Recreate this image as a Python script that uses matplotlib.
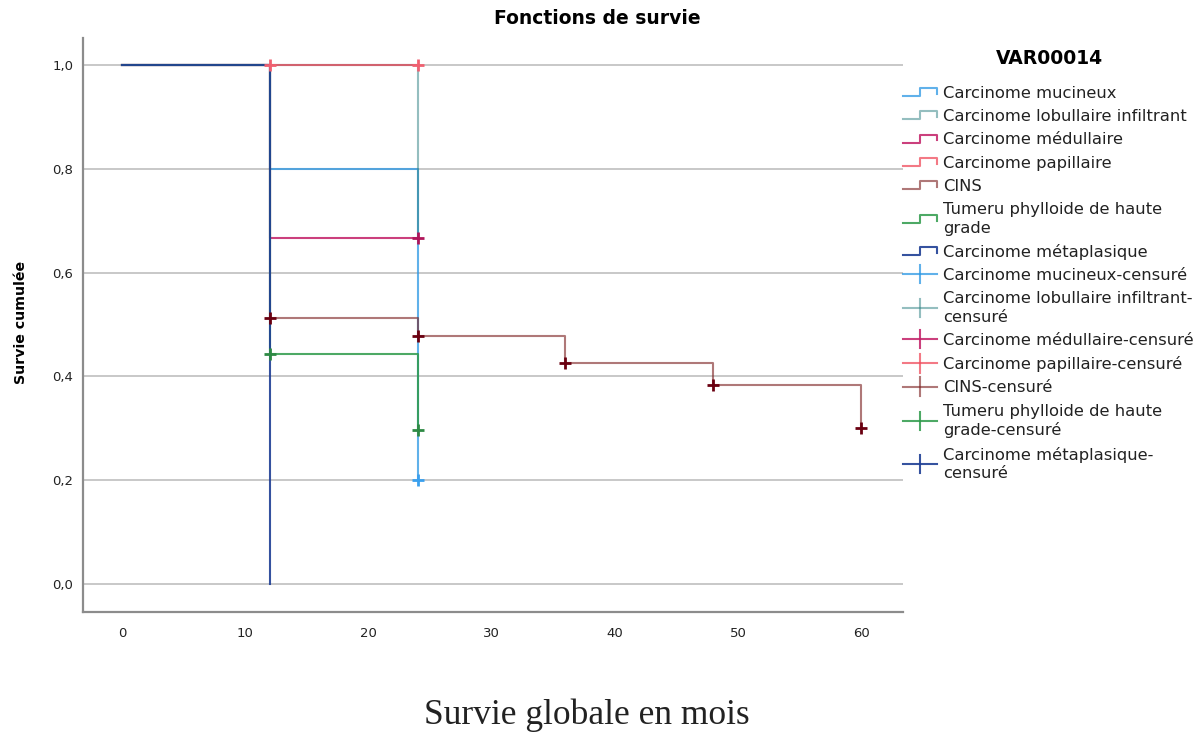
import numpy as np
import matplotlib
matplotlib.use("Agg")
import matplotlib.pyplot as plt
from matplotlib.lines import Line2D
from matplotlib.legend_handler import HandlerBase

# Kaplan-Meier steps per histological type: event times (months) and cumulative survival
group_names = [
    "Carcinome mucineux",
    "Carcinome lobullaire infiltrant",
    "Carcinome médullaire",
    "Carcinome papillaire",
    "CINS",
    "Tumeru phylloide de haute\ngrade",
    "Carcinome métaplasique",
]
censored_names = [
    "Carcinome mucineux-censuré",
    "Carcinome lobullaire infiltrant-\ncensuré",
    "Carcinome médullaire-censuré",
    "Carcinome papillaire-censuré",
    "CINS-censuré",
    "Tumeru phylloide de haute\ngrade-censuré",
    "Carcinome métaplasique-\ncensuré",
]

mucineux_t = [0, 12, 24]
mucineux_s = [1.0, 0.8, 0.2]
mucineux_cens = [24]

lobulaire_t = [0, 24]
lobulaire_s = [1.0, 0.667]
lobulaire_cens = []

medullaire_t = [0, 12, 24]
medullaire_s = [1.0, 0.667, 0.667]
medullaire_cens = [24]

papillaire_t = [0, 24]
papillaire_s = [1.0, 1.0]
papillaire_cens = [12, 24]

cins_t = [0, 12, 24, 36, 48, 60]
cins_s = [1.0, 0.513, 0.478, 0.426, 0.383, 0.300]
cins_cens = [12, 24, 36, 48, 60]

phyllode_t = [0, 12, 24]
phyllode_s = [1.0, 0.444, 0.296]
phyllode_cens = [12, 24]

metaplasique_t = [0, 12]
metaplasique_s = [1.0, 0.0]
metaplasique_cens = []

x_ticks = [0, 10, 20, 30, 40, 50, 60]
y_ticks = [0.0, 0.2, 0.4, 0.6, 0.8, 1.0]

line_colors = ["#2b97e3", "#2a7f80", "#c21e66", "#f04c5c", "#7a1e1e", "#2e9a4a", "#1f3f95"]
line_alpha = [0.75, 0.5, 0.85, 0.75, 0.6, 0.85, 0.9]
mark_colors = ["#3aa0ee", "#2a7f80", "#b0155a", "#f06070", "#6a0010", "#2e8a44", "#1f3f95"]

series = [
    (mucineux_t, mucineux_s, mucineux_cens),
    (lobulaire_t, lobulaire_s, lobulaire_cens),
    (medullaire_t, medullaire_s, medullaire_cens),
    (papillaire_t, papillaire_s, papillaire_cens),
    (cins_t, cins_s, cins_cens),
    (phyllode_t, phyllode_s, phyllode_cens),
    (metaplasique_t, metaplasique_s, metaplasique_cens),
]

plt.rcParams["font.family"] = ["DejaVu Sans"]

W, H = 1204, 733
fig = plt.figure(figsize=(W / 100, H / 100), dpi=100)
ax = fig.add_axes([83 / W, 121 / H, 820 / W, 574 / H])

# survival steps first, censoring ticks on top of all curves
step_handles = []
cens_handles = []
for (t, s, cens), col, a, mcol in zip(series, line_colors, line_alpha, mark_colors):
    ln, = ax.step(t, s, where="post", color=col, alpha=a, lw=1.5, zorder=3)
    step_handles.append(ln)
    if cens:
        idx = np.searchsorted(t, cens, side="right") - 1
        ax.plot(cens, np.asarray(s)[idx], ls="none", marker="+", ms=9, mew=2,
                color=mcol, zorder=4)
    cens_handles.append(Line2D([], [], color=col, alpha=a, lw=1.5))

ax.set_xlim(-3.17, 63.4)
ax.set_ylim(-0.054, 1.052)
ax.set_xticks(x_ticks)
ax.set_yticks(y_ticks)
ax.set_yticklabels([f"{v:.1f}".replace(".", ",") for v in y_ticks])
ax.tick_params(axis="both", length=0, labelsize=9.5, colors="#222222")
ax.tick_params(axis="x", pad=11)
ax.tick_params(axis="y", pad=7)
ax.yaxis.grid(True, color="#c8c8c8", lw=1.4)
ax.set_axisbelow(True)
for side in ("top", "right"):
    ax.spines[side].set_visible(False)
for side in ("left", "bottom"):
    ax.spines[side].set_color("#8c8c8c")
    ax.spines[side].set_linewidth(1.6)

fig.text(597 / W, 1 - 18 / H, "Fonctions de survie", fontsize=13.5,
         fontweight="bold", ha="center", va="center")
ax.set_ylabel("Survie cumulée", fontsize=10.2, fontweight="bold", va="center")
ax.yaxis.set_label_coords((21 - 83) / 820, (612 - 322) / 574)
ax.set_xlabel("Survie globale en mois", family="Liberation Serif", fontsize=25.5,
              va="center", color="#222222")
ax.xaxis.set_label_coords((587 - 83) / 820, (612 - 715) / 574)


class StepHandler(HandlerBase):
    def create_artists(self, legend, orig_handle, xdescent, ydescent,
                       width, height, fontsize, trans):
        x0, y0 = -xdescent, -ydescent
        xs = [x0, x0 + 0.5 * width, x0 + 0.5 * width, x0 + width, x0 + width]
        ys = [y0 + 0.15 * height, y0 + 0.15 * height, y0 + 0.85 * height,
              y0 + 0.85 * height, y0 + 0.35 * height]
        ln = Line2D(xs, ys, color=orig_handle.get_color(),
                    alpha=orig_handle.get_alpha(), lw=1.5)
        ln.set_transform(trans)
        return [ln]


class CensorHandler(HandlerBase):
    def create_artists(self, legend, orig_handle, xdescent, ydescent,
                       width, height, fontsize, trans):
        x0, y0 = -xdescent, -ydescent
        hz = Line2D([x0, x0 + width], [y0 + 0.5 * height] * 2,
                    color=orig_handle.get_color(), alpha=orig_handle.get_alpha(), lw=1.5)
        vt = Line2D([x0 + 0.5 * width] * 2, [y0 - 0.3 * height, y0 + 1.3 * height],
                    color=orig_handle.get_color(), alpha=orig_handle.get_alpha(), lw=1.5)
        hz.set_transform(trans)
        vt.set_transform(trans)
        return [hz, vt]


handler_map = {h: StepHandler() for h in step_handles}
handler_map.update({h: CensorHandler() for h in cens_handles})

leg = fig.legend(step_handles + cens_handles, group_names + censored_names,
                 loc="upper left", bbox_to_anchor=(903 / W, 1 - 86 / H),
                 frameon=False, fontsize=11.8, handlelength=2.1, handleheight=0.7,
                 handletextpad=0.35, labelspacing=0.5, borderpad=0, borderaxespad=0,
                 handler_map=handler_map)
for txt in leg.get_texts():
    txt.set_linespacing(1.3)
    txt.set_color("#222222")

fig.text(1049 / W, 1 - 58 / H, "VAR00014", fontsize=13.5, fontweight="bold",
         ha="center", va="center")

fig.savefig("out.png", dpi=100, facecolor="white")
